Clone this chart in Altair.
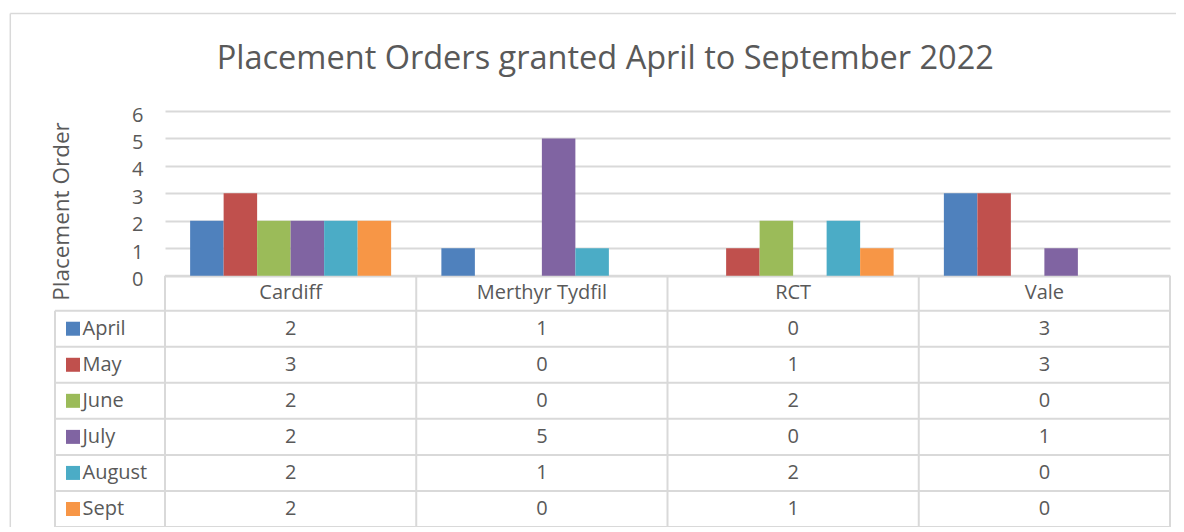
import altair as alt
import pandas as pd

# ---- data ----
REGIONS = ["Cardiff", "Merthyr Tydfil", "RCT", "Vale"]
MONTHS = ["April", "May", "June", "July", "August", "Sept"]
APRIL = [2, 1, 0, 3]
MAY = [3, 0, 1, 3]
JUNE = [2, 0, 2, 0]
JULY = [2, 5, 0, 1]
AUGUST = [2, 1, 2, 0]
SEPT = [2, 0, 1, 0]
SERIES = [APRIL, MAY, JUNE, JULY, AUGUST, SEPT]
COLORS = ["#4F81BD", "#C0504D", "#9BBB59", "#8064A2", "#4BACC6", "#F79646"]
TITLE = "Placement Orders granted April to September 2022"
Y_TITLE = "Placement Order"
Y_TICKS = [0, 1, 2, 3, 4, 5, 6]

# ---- layout ----
W, H = 1005, 416
PXU = 27.45                      # px per value unit
Y_MAX = 6
Y_MIN = -(H / PXU - Y_MAX)
CAT_H = 35 / PXU
ROW_H = (-Y_MIN - CAT_H) / 6
COL_PX = W / 4
LEFT = -110 / COL_PX             # legend column left edge (column units)
FONT = "Open Sans"
TXT = "#595959"
LINE = "#D9D9D9"
FS = 20

rows = []
for j, m in enumerate(MONTHS):
    for i, r in enumerate(REGIONS):
        rows.append({"region": r, "month": m, "value": SERIES[j][i],
                     "cx": i + 0.5, "cy": -CAT_H - (j + 0.5) * ROW_H})
df = pd.DataFrame(rows)

cats = pd.DataFrame({"region": REGIONS, "cx": [i + 0.5 for i in range(4)],
                     "cy": [-CAT_H / 2] * 4})
leg = pd.DataFrame({"month": MONTHS,
                    "sx": [LEFT + 18 / COL_PX] * 6,
                    "tx": [LEFT + 27.5 / COL_PX] * 6,
                    "cy": [-CAT_H - (j + 0.5) * ROW_H for j in range(6)]})

segs = [(0, 4, 0, 0)]
for k in range(7):
    yy = -CAT_H - k * ROW_H
    segs.append((LEFT, 4, yy, yy))
for c in range(5):
    segs.append((c, c, 0, Y_MIN))
segs.append((LEFT, LEFT, -CAT_H, Y_MIN))
lines = pd.DataFrame(segs, columns=["x", "x2", "y", "y2"])

bx = (10 - 164.7) / COL_PX
by = Y_MAX + (111 - 13.5) / PXU
border = pd.DataFrame([(bx, 4.5, by, by), (bx, bx, by, Y_MIN - 1)],
                      columns=["x", "x2", "y", "y2"])

title_df = pd.DataFrame({"t": [TITLE], "x": [(605 - 164.7) / COL_PX],
                         "y": [Y_MAX + (111 - 69) / PXU]})

YS = alt.Scale(domain=[Y_MIN, Y_MAX], nice=False, zero=False)
XT = alt.Scale(domain=[0, 4], nice=False, zero=False)
CS = alt.Scale(domain=MONTHS, range=COLORS)
YA = alt.Axis(values=Y_TICKS, grid=True, gridColor=LINE, gridWidth=2,
              domain=False, ticks=False, labelFont=FONT,
              labelFontSize=FS, labelColor=TXT, labelPadding=22, labelOffset=4,
              title=Y_TITLE, titleFont=FONT, titleFontSize=22.5,
              titleColor=TXT, titleFontWeight="normal",
              titleX=-97, titleY=100, titleAngle=-90,
              titleBaseline="alphabetic", titleAlign="center")


def ypos(field):
    return alt.Y(field, scale=YS, axis=YA)


def xpos(field):
    return alt.X(field, scale=XT, axis=None)


bars = alt.Chart(df[df.value > 0]).mark_bar().encode(
    x=alt.X("region:N", sort=REGIONS, axis=None,
            scale=alt.Scale(paddingInner=0, paddingOuter=0)),
    xOffset=alt.XOffset("month:N", sort=MONTHS,
                        scale=alt.Scale(paddingInner=0, paddingOuter=0.75)),
    y=ypos("value:Q"),
    color=alt.Color("month:N", scale=CS, legend=None),
)

grid_rules = alt.Chart(lines).mark_rule(color=LINE, strokeWidth=2).encode(
    x=xpos("x:Q"), x2="x2:Q", y=ypos("y:Q"), y2="y2:Q")

border_rules = alt.Chart(border).mark_rule(color=LINE, strokeWidth=1.5).encode(
    x=xpos("x:Q"), x2="x2:Q", y=ypos("y:Q"), y2="y2:Q")

cat_text = alt.Chart(cats).mark_text(font=FONT, fontSize=FS, color=TXT,
                                     baseline="middle").encode(
    x=xpos("cx:Q"), y=ypos("cy:Q"), text="region:N")

val_text = alt.Chart(df).mark_text(font=FONT, fontSize=FS, color=TXT,
                                   baseline="middle").encode(
    x=xpos("cx:Q"), y=ypos("cy:Q"), text="value:Q")

leg_sq = alt.Chart(leg).mark_point(shape="square", size=196, filled=True,
                                   opacity=1).encode(
    x=xpos("sx:Q"), y=ypos("cy:Q"),
    color=alt.Color("month:N", scale=CS, legend=None))

leg_text = alt.Chart(leg).mark_text(font=FONT, fontSize=FS, color=TXT,
                                    align="left", baseline="middle").encode(
    x=xpos("tx:Q"), y=ypos("cy:Q"), text="month:N")

title = alt.Chart(title_df).mark_text(font=FONT, fontSize=32.5, color=TXT,
                                      align="center", baseline="alphabetic").encode(
    x=xpos("x:Q"), y=ypos("y:Q"), text="t:N")

chart = alt.layer(border_rules, grid_rules, bars, cat_text, val_text, leg_sq,
                  leg_text, title).resolve_scale(x="independent").properties(
    width=W, height=H,
    autosize=alt.AutoSizeParams(type="none"),
    padding={"left": 157, "top": 103, "right": 6, "bottom": 0},
    background="white",
).configure_view(stroke=None)

chart.save("out.html", embed_options={"renderer": "svg", "actions": False})
